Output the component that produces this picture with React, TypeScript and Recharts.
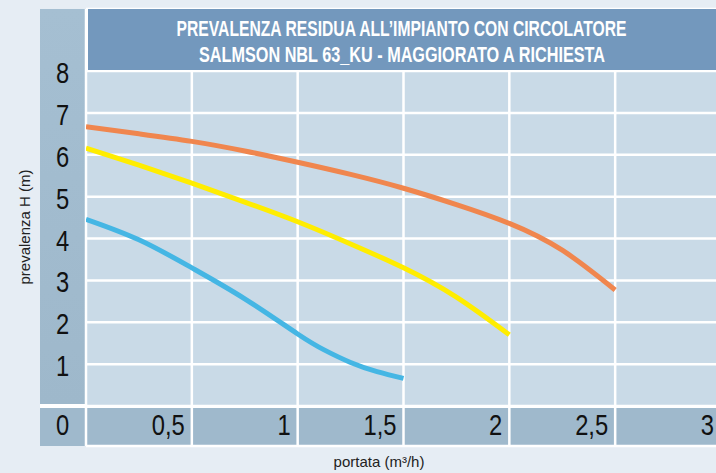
import React, { useLayoutEffect, useRef, useState } from 'react';
import { LineChart, Line, XAxis, YAxis, CartesianGrid } from 'recharts';

// ---- data ----
const flowOrange = [0, 0.25, 0.5, 0.75, 1, 1.25, 1.5, 1.75, 2, 2.25, 2.5];
const headOrange = [6.67, 6.5, 6.32, 6.09, 5.82, 5.53, 5.2, 4.81, 4.36, 3.72, 2.77];

const flowYellow = [0, 0.25, 0.5, 0.75, 1, 1.25, 1.5, 1.75, 2];
const headYellow = [6.16, 5.75, 5.32, 4.87, 4.4, 3.87, 3.3, 2.6, 1.7];

const flowBlue = [0, 0.25, 0.5, 0.75, 1, 1.125, 1.25, 1.375, 1.5];
const headBlue = [4.46, 3.97, 3.3, 2.56, 1.72, 1.34, 1.04, 0.82, 0.66];

const xTicks = [0, 0.5, 1, 1.5, 2, 2.5, 3];
const xTickLabels = ['0', '0,5', '1', '1,5', '2', '2,5', '3'];
const yTicks = [0, 1, 2, 3, 4, 5, 6, 7, 8];
const yTickLabels = ['', '1', '2', '3', '4', '5', '6', '7', '8'];

const titleLines = [
  'PREVALENZA RESIDUA ALL\u2019IMPIANTO CON CIRCOLATORE',
  'SALMSON NBL 63_KU - MAGGIORATO A RICHIESTA',
];
const xLabel = 'portata (m\u00B3/h)';
const yLabel = 'prevalenza H (m)';

const toPoints = (xs: number[], ys: number[]) => xs.map((x, i) => ({ x, y: ys[i] }));
const orangeData = toPoints(flowOrange, headOrange);
const yellowData = toPoints(flowYellow, headYellow);
const blueData = toPoints(flowBlue, headBlue);

const FONT = "'Liberation Sans', Arial, sans-serif";

const XTick = (props: any) => {
  const { x, payload } = props;
  const idx = xTicks.indexOf(payload.value);
  const label = xTickLabels[idx] ?? String(payload.value);
  const isZero = payload.value === 0;
  const tx = isZero ? 62.5 : x - 7;
  return (
    <text
      transform={`translate(${tx},435) scale(0.82,1)`}
      textAnchor={isZero ? 'middle' : 'end'}
      fontSize={29}
      fontFamily={FONT}
      fill="#111"
    >
      {label}
    </text>
  );
};

const YTick = (props: any) => {
  const { y, payload } = props;
  const idx = yTicks.indexOf(payload.value);
  const label = yTickLabels[idx] ?? '';
  if (!label) return null;
  return (
    <text
      transform={`translate(62.5,${y + 12}) scale(0.82,1)`}
      textAnchor="middle"
      fontSize={29}
      fontFamily={FONT}
      fill="#111"
    >
      {label}
    </text>
  );
};

const TITLE_W = [450, 406];

function Title() {
  const r0 = useRef<SVGTextElement>(null);
  const r1 = useRef<SVGTextElement>(null);
  const [sx, setSx] = useState<number[]>([0.64, 0.64]);
  useLayoutEffect(() => {
    const refs = [r0, r1];
    const next = refs.map((r, i) => {
      const el = r.current;
      if (!el) return 0.64;
      const prev = el.getAttribute('transform');
      el.removeAttribute('transform');
      const w = el.getComputedTextLength();
      if (prev) el.setAttribute('transform', prev);
      return w > 0 ? TITLE_W[i] / w : 0.64;
    });
    setSx(next);
  }, []);
  return (
    <svg width={716} height={80} style={{ position: 'absolute', left: 0, top: 0 }}>
      <text ref={r0} transform={`translate(401.5,36) scale(${sx[0]},1)`} textAnchor="middle" fontSize={22}
        fontWeight="bold" fontFamily={FONT} fill="#ffffff">
        {titleLines[0]}
      </text>
      <text ref={r1} transform={`translate(402,62) scale(${sx[1]},1)`} textAnchor="middle" fontSize={22}
        fontWeight="bold" fontFamily={FONT} fill="#ffffff">
        {titleLines[1]}
      </text>
    </svg>
  );
}

export default function App() {
  const abs = (l: number, t: number, w: number, h: number, bg: string): React.CSSProperties => ({
    position: 'absolute', left: l, top: t, width: w, height: h, background: bg,
  });
  return (
    <div style={{ position: 'fixed', left: 0, top: 0, width: 716, height: 473, overflow: 'hidden', background: '#e6edf4' }}>
      {/* white frame behind panels */}
      <div style={abs(40, 9, 676, 437, '#ffffff')} />
      {/* left column */}
      <div style={{ ...abs(40, 9, 45, 395, '#a0bacd'), background: 'linear-gradient(#a5bfd2, #9eb8cb)' }} />
      <div style={abs(40, 408, 45, 38, '#9fb9cc')} />
      {/* bottom band */}
      <div style={abs(86, 408, 630, 38, '#9fb9cc')} />
      {/* plot area */}
      <div style={abs(86, 71, 630, 335, '#c9dae7')} />

      <div style={{ position: 'absolute', left: 0, top: 0 }}>
        <LineChart width={740} height={473} margin={{ top: 9, right: 19, bottom: 0, left: 0 }}>
          <CartesianGrid stroke="#ffffff" strokeWidth={2.5} />
          <XAxis
            dataKey="x"
            type="number"
            domain={[0, 3]}
            ticks={xTicks}
            allowDataOverflow
            axisLine={false}
            tickLine={false}
            height={27}
            interval={0}
            tick={<XTick />}
            label={{
              content: () => (
                <text x={379} y={467} textAnchor="middle" fontSize={15} fontFamily={FONT} fill="#222">
                  {xLabel}
                </text>
              ),
            }}
          />
          <YAxis
            type="number"
            domain={[-0.9552, 9.4806]}
            ticks={yTicks}
            allowDataOverflow
            axisLine={false}
            tickLine={false}
            width={86}
            interval={0}
            tick={<YTick />}
            label={{
              content: () => (
                <text
                  transform="translate(30,227) rotate(-90)"
                  textAnchor="middle"
                  fontSize={15}
                  fontFamily={FONT}
                  fill="#222"
                >
                  {yLabel}
                </text>
              ),
            }}
          />
          <Line data={orangeData} dataKey="y" type="natural" stroke="#f0864e" strokeWidth={5} dot={false} isAnimationActive={false} />
          <Line data={yellowData} dataKey="y" type="natural" stroke="#ffed00" strokeWidth={5} dot={false} isAnimationActive={false} />
          <Line data={blueData} dataKey="y" type="natural" stroke="#45b6e4" strokeWidth={5} dot={false} isAnimationActive={false} />
        </LineChart>
      </div>

      {/* title box */}
      <div style={abs(87.5, 9, 628.5, 60.5, '#7398bd')} />
      <Title />
    </div>
  );
}
